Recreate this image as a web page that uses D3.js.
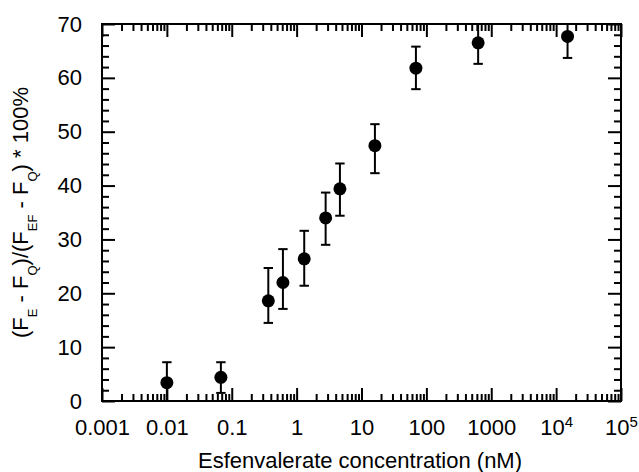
<!DOCTYPE html>
<html>
<head>
<meta charset="utf-8">
<script src="https://cdn.jsdelivr.net/npm/d3@7"></script>
<style>
  body { margin: 0; background: #fff; }
  svg { display: block; font-family: "Liberation Sans", Arial, Helvetica, sans-serif; }
</style>
</head>
<body>
<div class="vis-scatter"></div>
<script>
// concentration (nM) and response (%)
const conc = [0.01, 0.068, 0.366, 0.615, 1.31, 2.8, 4.65, 16.1, 69, 628, 15000];
const pct = [3.4, 4.4, 18.6, 22.0, 26.4, 34.0, 39.4, 47.4, 61.8, 66.5, 67.7];
const errLo = [-0.4, 1.5, 14.5, 17.1, 21.4, 29.0, 34.4, 42.3, 57.9, 62.6, 63.7];
const errHi = [7.2, 7.2, 24.7, 28.2, 31.6, 38.7, 44.1, 51.4, 65.8, 70.3, 71.5];

const xTicks = [0.001, 0.01, 0.1, 1, 10, 100, 1000, 1e4, 1e5];
const xTickLabels = ["0.001", "0.01", "0.1", "1", "10", "100", "1000", "10^4", "10^5"];
const yTicks = [0, 10, 20, 30, 40, 50, 60, 70];

const draw = () => {
    const W = 639, H = 472;
    const margin = { top: 24, right: 18, bottom: 71, left: 102 };
    const width = W - margin.left - margin.right;
    const height = H - margin.top - margin.bottom;

    const root = d3.select('.vis-scatter').append('svg')
        .attr('width', W)
        .attr('height', H);
    const svg = root.append('g')
        .attr('transform', 'translate(' + margin.left + ',' + margin.top + ')');

    const x = d3.scaleLog().domain([0.001, 1e5]).range([0, width]);
    const y = d3.scaleLinear().domain([0, 70]).range([height, 0]);

    // minor ticks: 2..9 in every decade, even steps of 2 on y
    const xMinor = [];
    for (let e = -3; e < 5; e++) {
        for (let k = 2; k <= 9; k++) xMinor.push(k * Math.pow(10, e));
    }
    const yMinor = d3.range(0, 70.1, 2).filter(v => v % 10 !== 0);

    const tickAxis = (axis, vals, size, tr) => {
        const g = svg.append('g')
            .attr('transform', tr || null)
            .call(axis.tickValues(vals).tickSize(-size).tickFormat(''));
        g.select('.domain').remove();
        g.selectAll('.tick line').attr('stroke', '#000').attr('stroke-width', 2);
    };
    // inward ticks on all four sides
    tickAxis(d3.axisBottom(x), xTicks, 13, 'translate(0,' + height + ')');
    tickAxis(d3.axisBottom(x), xMinor, 7, 'translate(0,' + height + ')');
    tickAxis(d3.axisTop(x), xTicks, 13);
    tickAxis(d3.axisTop(x), xMinor, 7);
    tickAxis(d3.axisLeft(y), yTicks, 13);
    tickAxis(d3.axisLeft(y), yMinor, 7);
    tickAxis(d3.axisRight(y), yTicks, 13, 'translate(' + width + ',0)');
    tickAxis(d3.axisRight(y), yMinor, 7, 'translate(' + width + ',0)');

    // X tick labels
    const xl = svg.append('g')
        .attr('transform', 'translate(0,' + height + ')')
        .call(d3.axisBottom(x).tickValues(xTicks).tickSize(0).tickPadding(18)
            .tickFormat((d, i) => xTickLabels[i]));
    xl.select('.domain').remove();
    xl.selectAll('text')
        .style('font-size', '22px')
        .attr('fill', '#000')
        .each(function (d, i) {
            const lab = xTickLabels[i];
            if (lab.indexOf('^') < 0) return;
            const parts = lab.split('^');
            const t = d3.select(this).text('');
            t.append('tspan').text(parts[0]);
            t.append('tspan').attr('dy', '-8').style('font-size', '15px').text(parts[1]);
        });

    // Y tick labels
    const yl = svg.append('g')
        .call(d3.axisLeft(y).tickValues(yTicks).tickSize(0).tickPadding(20));
    yl.select('.domain').remove();
    yl.selectAll('text').style('font-size', '22px').attr('fill', '#000');

    // Frame
    svg.append('rect')
        .attr('width', width)
        .attr('height', height)
        .attr('fill', 'none')
        .attr('stroke', '#000')
        .attr('stroke-width', 2);

    // Error bars and points
    svg.append('clipPath').attr('id', 'plot-clip')
        .append('rect').attr('width', width).attr('height', height);
    const pts = svg.append('g').attr('clip-path', 'url(#plot-clip)');
    const data = conc.map((c, i) => ({ c: c, v: pct[i], lo: errLo[i], hi: errHi[i] }));
    const cap = 4.7;

    const eb = pts.selectAll('.err').data(data).enter().append('g').attr('class', 'err')
        .attr('stroke', '#000').attr('stroke-width', 2);
    eb.append('line')
        .attr('x1', d => x(d.c)).attr('x2', d => x(d.c))
        .attr('y1', d => y(d.lo)).attr('y2', d => y(d.hi));
    eb.append('line')
        .attr('x1', d => x(d.c) - cap).attr('x2', d => x(d.c) + cap)
        .attr('y1', d => y(d.hi)).attr('y2', d => y(d.hi));
    eb.append('line')
        .attr('x1', d => x(d.c) - cap).attr('x2', d => x(d.c) + cap)
        .attr('y1', d => y(d.lo)).attr('y2', d => y(d.lo));

    pts.selectAll('.dot').data(data).enter().append('circle')
        .attr('class', 'dot')
        .attr('cx', d => x(d.c))
        .attr('cy', d => y(d.v))
        .attr('r', 6.5)
        .attr('fill', '#000');

    // X axis title
    svg.append('text')
        .attr('text-anchor', 'middle')
        .attr('x', 258)
        .attr('y', height + 67)
        .style('font-size', '22px')
        .text('Esfenvalerate concentration (nM)');

    // Y axis title with subscripts
    const yt = root.append('text')
        .attr('text-anchor', 'middle')
        .attr('transform', 'translate(28,' + (margin.top + height / 2) + ') rotate(-90)')
        .style('font-size', '22px');
    const pieces = [['(F', ''], ['E', 's'], [' - F', ''], ['Q', 's'], [')/(F', ''], ['EF', 's'],
        [' - F', ''], ['Q', 's'], [') * 100%', '']];
    let sub = false;
    pieces.forEach(p => {
        const ts = yt.append('tspan').text(p[0]);
        if (p[1] === 's') {
            ts.attr('dy', 9).style('font-size', '13px');
            sub = true;
        } else if (sub) {
            ts.attr('dy', -9);
            sub = false;
        }
    });
};

draw();
</script>
</body>
</html>
